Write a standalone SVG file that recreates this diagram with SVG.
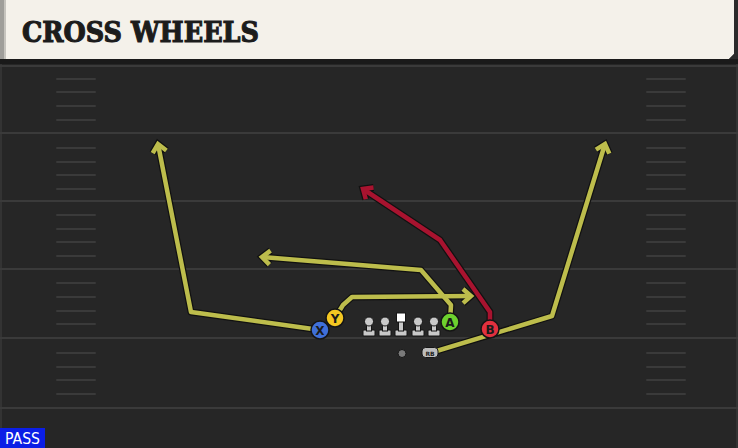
<svg xmlns="http://www.w3.org/2000/svg" xmlns:xlink="http://www.w3.org/1999/xlink" width="738" height="448" viewBox="0 0 738 448">
<style>
.yard{stroke:#3a3a3a;stroke-width:2}
.hash{stroke:#3a3a3a;stroke-width:2;stroke-linecap:round}
.outline{fill:none;stroke:#111;stroke-width:7;stroke-linejoin:round;marker-end:url(#arrDark)}
.yel{fill:none;stroke:#bdbd4c;stroke-width:4.5;stroke-linejoin:round;marker-end:url(#arrYel)}
.red{fill:none;stroke:#a8132f;stroke-width:4.5;stroke-linejoin:round;marker-end:url(#arrRed)}
.pc{stroke:#151515;stroke-width:1.5}
.pl{font-family:"DejaVu Sans","Liberation Sans",sans-serif;font-weight:bold;font-size:12px;fill:#1a1a1a;text-anchor:middle}
.ol{fill:#c9c9c9;stroke:#151515;stroke-width:1}
</style>
<defs>
<marker id="arrDark" markerUnits="userSpaceOnUse" orient="auto" refX="0" refY="0" markerWidth="30" markerHeight="30" overflow="visible">
<path d="M-8,-7 L0,0 L-8,7" fill="none" stroke="#111" stroke-width="7" stroke-linejoin="miter"/>
</marker>
<marker id="arrYel" markerUnits="userSpaceOnUse" orient="auto" refX="0" refY="0" markerWidth="30" markerHeight="30" overflow="visible">
<path d="M-8,-7 L0,0 L-8,7" fill="none" stroke="#bdbd4c" stroke-width="4.5" stroke-linejoin="miter"/>
</marker>
<marker id="arrRed" markerUnits="userSpaceOnUse" orient="auto" refX="0" refY="0" markerWidth="30" markerHeight="30" overflow="visible">
<path d="M-8,-7 L0,0 L-8,7" fill="none" stroke="#a8132f" stroke-width="4.5" stroke-linejoin="miter"/>
</marker>
<path id="rX" d="M320,330 L191,312 L158,144"/>
<path id="rY" d="M335,318 L343,305 L352,297 L471,296"/>
<path id="rA" d="M450,322 L451,305 L421,270 L262,257"/>
<path id="rB" d="M490,329 L490,312 L440,240 L363,189"/>
<path id="rRB" d="M430,353 L552,316 L605,144"/>
</defs>

<!-- field -->
<rect x="0" y="0" width="738" height="448" fill="#262626"/>
<rect x="0" y="60" width="2" height="388" fill="#333"/>
<rect x="736" y="60" width="2" height="388" fill="#333"/>
<g id="field-lines">
<line class="yard" x1="0" y1="66" x2="738" y2="66"/>
<line class="yard" x1="0" y1="133" x2="738" y2="133"/>
<line class="yard" x1="0" y1="201" x2="738" y2="201"/>
<line class="yard" x1="0" y1="269" x2="738" y2="269"/>
<line class="yard" x1="0" y1="338" x2="738" y2="338"/>
<line class="yard" x1="0" y1="408" x2="738" y2="408"/>
<g id="hash-left">
<line class="hash" x1="57" y1="79" x2="95" y2="79"/>
<line class="hash" x1="57" y1="92" x2="95" y2="92"/>
<line class="hash" x1="57" y1="106" x2="95" y2="106"/>
<line class="hash" x1="57" y1="120" x2="95" y2="120"/>
<line class="hash" x1="57" y1="148" x2="95" y2="148"/>
<line class="hash" x1="57" y1="162" x2="95" y2="162"/>
<line class="hash" x1="57" y1="175" x2="95" y2="175"/>
<line class="hash" x1="57" y1="189" x2="95" y2="189"/>
<line class="hash" x1="57" y1="215" x2="95" y2="215"/>
<line class="hash" x1="57" y1="229" x2="95" y2="229"/>
<line class="hash" x1="57" y1="242" x2="95" y2="242"/>
<line class="hash" x1="57" y1="256" x2="95" y2="256"/>
<line class="hash" x1="57" y1="283" x2="95" y2="283"/>
<line class="hash" x1="57" y1="297" x2="95" y2="297"/>
<line class="hash" x1="57" y1="311" x2="95" y2="311"/>
<line class="hash" x1="57" y1="324" x2="95" y2="324"/>
<line class="hash" x1="57" y1="353" x2="95" y2="353"/>
<line class="hash" x1="57" y1="367" x2="95" y2="367"/>
<line class="hash" x1="57" y1="380" x2="95" y2="380"/>
<line class="hash" x1="57" y1="394" x2="95" y2="394"/>
</g>
<g id="hash-right">
<line class="hash" x1="647" y1="79" x2="685" y2="79"/>
<line class="hash" x1="647" y1="92" x2="685" y2="92"/>
<line class="hash" x1="647" y1="106" x2="685" y2="106"/>
<line class="hash" x1="647" y1="120" x2="685" y2="120"/>
<line class="hash" x1="647" y1="148" x2="685" y2="148"/>
<line class="hash" x1="647" y1="162" x2="685" y2="162"/>
<line class="hash" x1="647" y1="175" x2="685" y2="175"/>
<line class="hash" x1="647" y1="189" x2="685" y2="189"/>
<line class="hash" x1="647" y1="215" x2="685" y2="215"/>
<line class="hash" x1="647" y1="229" x2="685" y2="229"/>
<line class="hash" x1="647" y1="242" x2="685" y2="242"/>
<line class="hash" x1="647" y1="256" x2="685" y2="256"/>
<line class="hash" x1="647" y1="283" x2="685" y2="283"/>
<line class="hash" x1="647" y1="297" x2="685" y2="297"/>
<line class="hash" x1="647" y1="311" x2="685" y2="311"/>
<line class="hash" x1="647" y1="324" x2="685" y2="324"/>
<line class="hash" x1="647" y1="353" x2="685" y2="353"/>
<line class="hash" x1="647" y1="367" x2="685" y2="367"/>
<line class="hash" x1="647" y1="380" x2="685" y2="380"/>
<line class="hash" x1="647" y1="394" x2="685" y2="394"/>
</g>
</g>

<!-- header -->
<g id="header">
<rect x="0" y="59" width="738" height="5" fill="#1a1a1a"/>
<polygon points="0,0 734,0 734,54 729,59 0,59" fill="#f4f1ea"/>
<polygon points="734,0 738,0 738,59 729,59 734,54" fill="#2a2a2a"/>
<rect x="0" y="0" width="6" height="59" fill="#9f9e9a"/>
<rect x="4" y="0" width="2" height="59" fill="#c6c4be"/>
<text x="22" y="42" font-family="'DejaVu Serif','Liberation Serif',serif" font-weight="bold" font-size="27" fill="#1c1c1c" stroke="#1c1c1c" stroke-width="1.1" stroke-linejoin="miter" textLength="237" lengthAdjust="spacingAndGlyphs">CROSS WHEELS</text>
</g>

<!-- routes -->
<g id="connectors">
<use xlink:href="#rX" class="outline"/>
<use xlink:href="#rY" class="outline"/>
<use xlink:href="#rA" class="outline"/>
<use xlink:href="#rB" class="outline"/>
<use xlink:href="#rRB" class="outline"/>
<use xlink:href="#rX" class="yel"/>
<use xlink:href="#rY" class="yel"/>
<use xlink:href="#rA" class="yel"/>
<use xlink:href="#rRB" class="yel"/>
<use xlink:href="#rB" class="red"/>
</g>

<!-- offensive line -->
<g id="LT">
<rect class="ol" x="363" y="330" width="12" height="6" rx="1"/>
<rect class="ol" x="366.5" y="321" width="5" height="10"/>
<circle class="ol" cx="369" cy="321.5" r="4.5"/>
</g>
<g id="LG">
<rect class="ol" x="379" y="330" width="12" height="6" rx="1"/>
<rect class="ol" x="382.5" y="321" width="5" height="10"/>
<circle class="ol" cx="385" cy="321.5" r="4.5"/>
</g>
<g id="C">
<rect class="ol" x="395" y="330" width="12" height="6" rx="1"/>
<rect class="ol" x="398.5" y="321" width="5" height="10"/>
<rect x="396.5" y="313" width="9" height="9" fill="#ffffff" stroke="#151515" stroke-width="1"/>
</g>
<g id="RG">
<rect class="ol" x="412" y="330" width="12" height="6" rx="1"/>
<rect class="ol" x="415.5" y="321" width="5" height="10"/>
<circle class="ol" cx="418" cy="321.5" r="4.5"/>
</g>
<g id="RT">
<rect class="ol" x="428" y="330" width="12" height="6" rx="1"/>
<rect class="ol" x="431.5" y="321" width="5" height="10"/>
<circle class="ol" cx="434" cy="321.5" r="4.5"/>
</g>
<g id="QB">
<circle cx="402" cy="353.5" r="4" fill="#7a7a7a" stroke="#151515" stroke-width="1"/>
</g>
<g id="RB">
<rect x="422" y="347.5" width="16" height="10" rx="3.5" fill="#bdbdbd" stroke="#151515" stroke-width="1"/>
<text x="430" y="355.5" font-family="'DejaVu Sans','Liberation Sans',sans-serif" font-weight="bold" font-size="6" fill="#222" text-anchor="middle">RB</text>
</g>

<!-- receivers -->
<g id="X">
<circle class="pc" cx="320" cy="330" r="9" fill="#3f6fd8"/>
<text class="pl" x="320" y="334.5">X</text>
</g>
<g id="Y">
<circle class="pc" cx="335" cy="318" r="9" fill="#f4c722"/>
<text class="pl" x="335" y="322.5">Y</text>
</g>
<g id="A">
<circle class="pc" cx="450" cy="322" r="9" fill="#6dd12e"/>
<text class="pl" x="450" y="326.5">A</text>
</g>
<g id="B">
<circle class="pc" cx="490" cy="329" r="9" fill="#e2303e"/>
<text class="pl" x="490" y="333.5">B</text>
</g>

<!-- badge -->
<g id="pass-badge">
<rect x="0" y="428" width="45" height="20" fill="#0b1ee6"/>
<text x="5" y="444" font-family="'DejaVu Sans','Liberation Sans',sans-serif" font-size="15" fill="#ffffff" textLength="35" lengthAdjust="spacingAndGlyphs">PASS</text>
</g>
</svg>
